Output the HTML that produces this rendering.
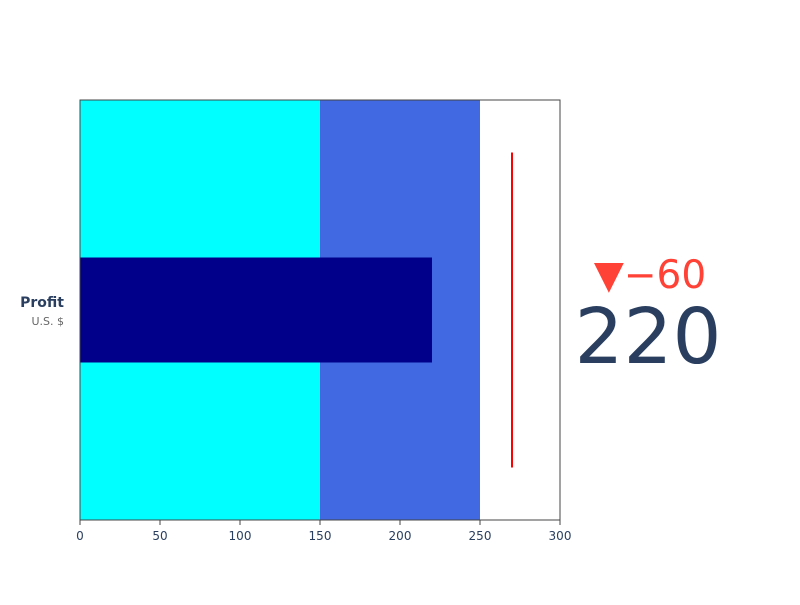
<!DOCTYPE html>
<html><head><meta charset="utf-8"><style>
body{margin:0;background:#fff;}
svg text{font-family:"DejaVu Sans","Liberation Sans",sans-serif;}
</style></head><body>
<svg id="chart" width="800" height="600" xmlns="http://www.w3.org/2000/svg">
<g id="steps"></g>
<g id="bar"></g>
<g id="thr"></g>
<rect x="80" y="100" width="480" height="420" fill="none" stroke="#444" stroke-width="1"/>
<g id="axis"></g>
<text x="64" y="307" text-anchor="end" font-size="14" font-weight="bold" fill="#2a3f5f">Profit</text>
<text x="64" y="325" text-anchor="end" font-size="11" fill="#666">U.S. $</text>
<text id="delta" x="650" y="288" text-anchor="middle" font-size="39" fill="#FF4136"></text>
<text id="num" x="648" y="363" text-anchor="middle" font-size="77" fill="#2a3f5f"></text>
</svg>
<script>
const value = 220;
const reference = 280;
const threshold = 270;
const stepRanges = [[0,150],[150,250]];
const stepColors = ["cyan","royalblue"];
const tickValues = [0,50,100,150,200,250,300];
const axisMax = 300;
const NS="http://www.w3.org/2000/svg";
const x0=80,x1=560,y0=100,y1=520;
const xs=v=>x0+(v/axisMax)*(x1-x0);
function mk(tag,attrs,parent){const e=document.createElementNS(NS,tag);for(const k in attrs)e.setAttribute(k,attrs[k]);parent.appendChild(e);return e;}
const sg=document.getElementById('steps');
stepRanges.forEach((r,i)=>{const e=mk('rect',{x:xs(r[0]),y:y0,width:xs(r[1])-xs(r[0]),height:y1-y0,fill:stepColors[i]},sg);

});
const bh=(y1-y0)*0.25;
const b=mk('rect',{x:xs(0),y:(y0+y1)/2-bh/2,width:xs(value)-xs(0),height:bh,fill:"darkblue"},document.getElementById('bar'));


const th=(y1-y0)*0.75;
const t=mk('line',{x1:xs(threshold),x2:xs(threshold),y1:(y0+y1)/2-th/2,y2:(y0+y1)/2+th/2,stroke:"red","stroke-width":2},document.getElementById('thr'));


const ag=document.getElementById('axis');
tickValues.forEach(v=>{const l=mk('line',{x1:xs(v),x2:xs(v),y1:y1,y2:y1+5,stroke:"#444"},ag);


const tx=mk('text',{x:xs(v),y:y1+20,"text-anchor":"middle","font-size":12,fill:"#2a3f5f"},ag);tx.textContent=v;

});
const d=value-reference;
document.getElementById('delta').textContent=(d<0?"▼−":"▲")+Math.abs(d);
document.getElementById('num').textContent=value;
</script>
</body></html>
